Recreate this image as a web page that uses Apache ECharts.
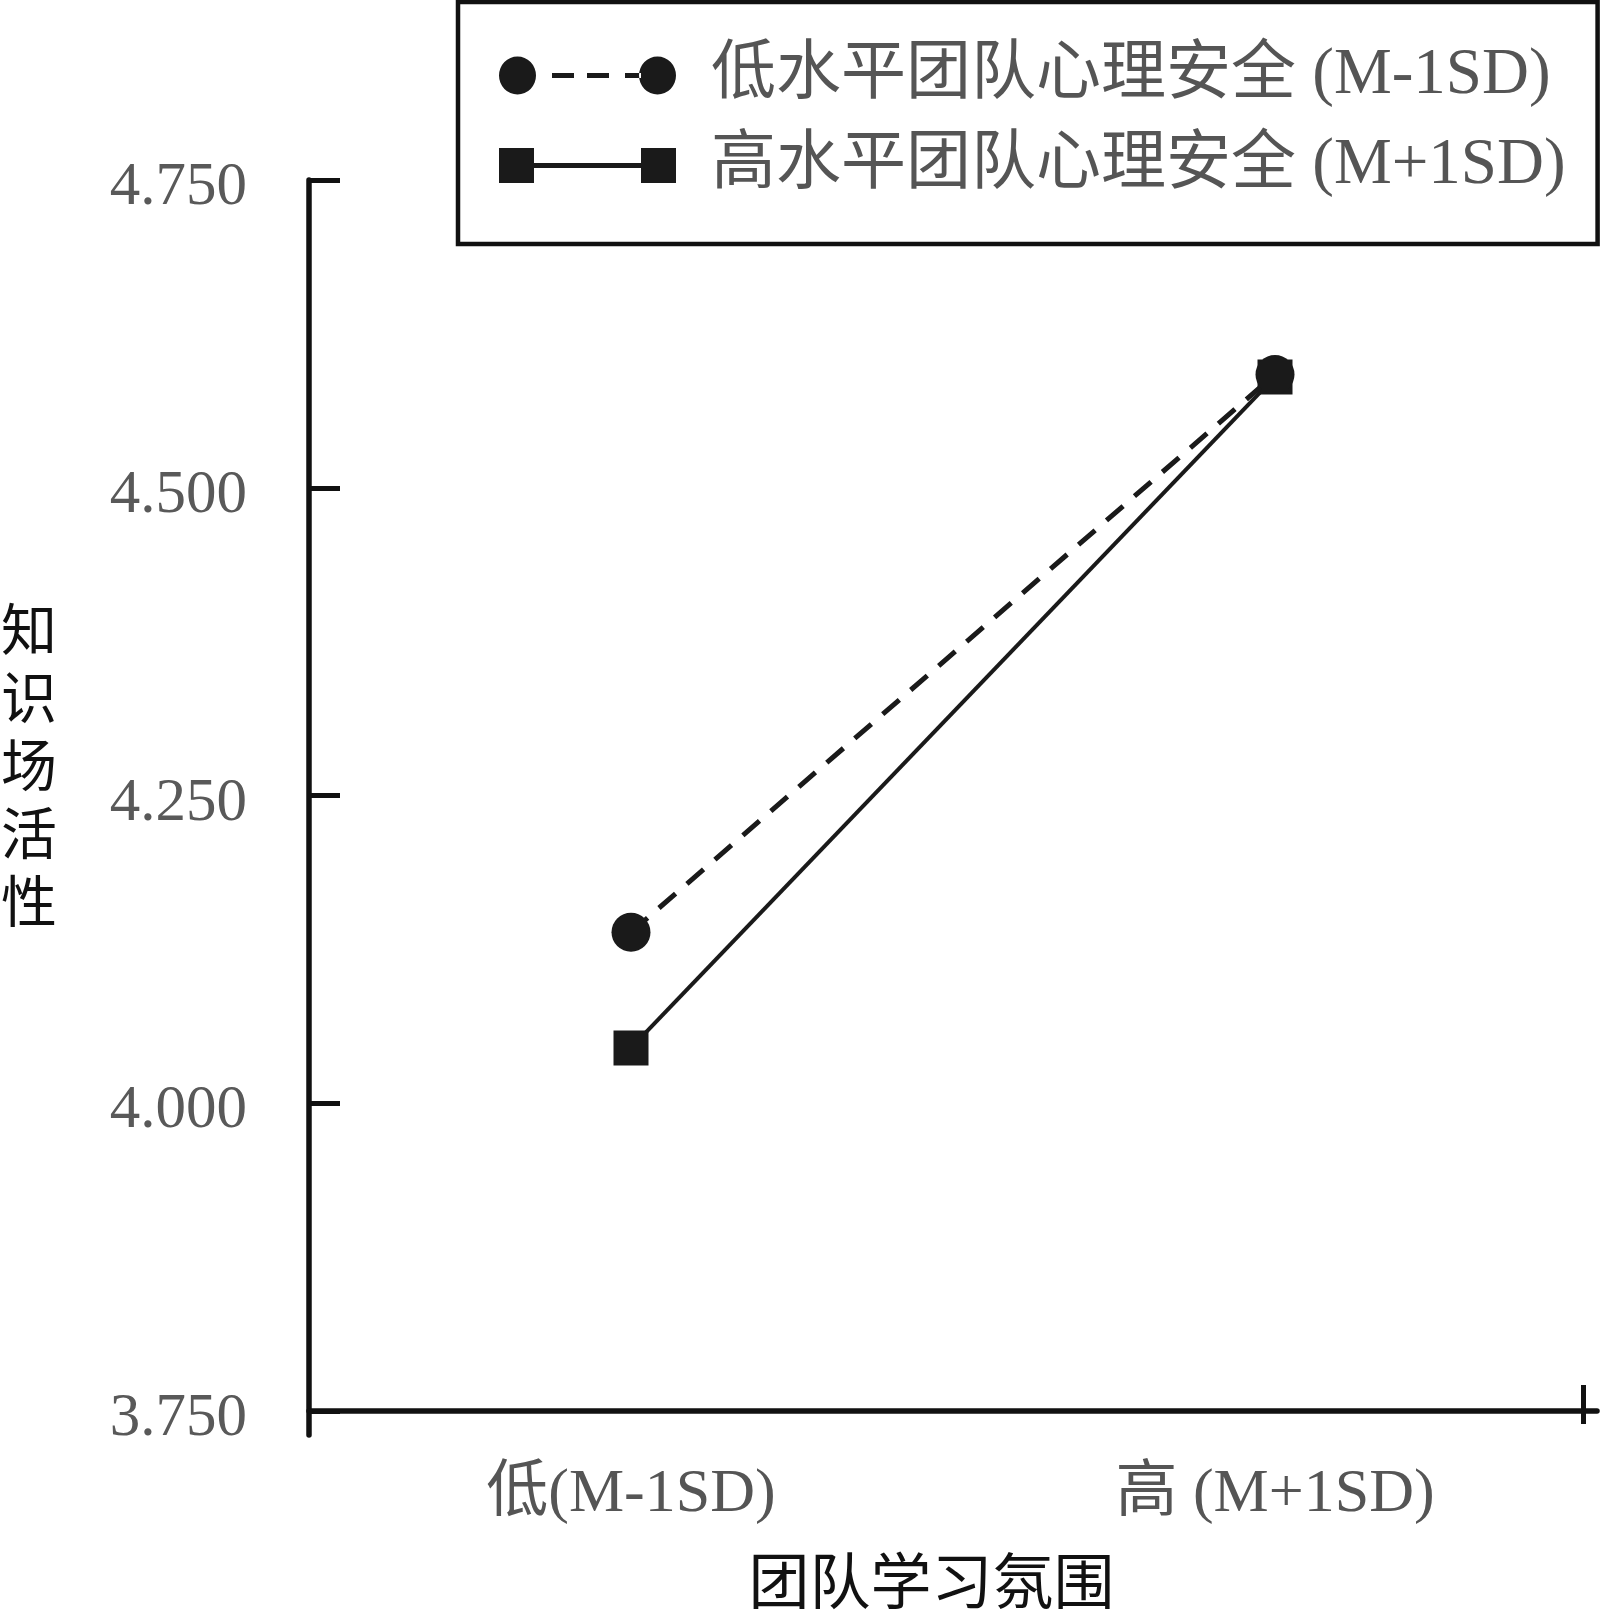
<!DOCTYPE html>
<html>
<head>
<meta charset="utf-8">
<script src="https://cdn.jsdelivr.net/npm/echarts@6/dist/echarts.min.js"></script>
<style>
html,body{margin:0;padding:0;background:#fff;}
#c{width:1601px;height:1616px;}
</style>
</head>
<body>
<div id="c"></div>
<script>
// ---- data ----
var categories = ['低(M-1SD)', '高 (M+1SD)'];
var seriesNames = ['低水平团队心理安全 (M-1SD)', '高水平团队心理安全 (M+1SD)'];
var lowSafety = [4.139, 4.592];
var highSafety = [4.045, 4.590];
var yTicks = [3.75, 4.0, 4.25, 4.5, 4.75];
var xAxisTitle = '团队学习氛围';
var yAxisTitle = '知识场活性';

var FONT = "'Liberation Serif', 'Noto Sans CJK SC', serif";
var CJK = "'Noto Sans CJK SC', sans-serif";
var INK = '#1a1a1a';

var dashedIcon = 'path://M0,19 A18.5,19 0 1,0 37,19 A18.5,19 0 1,0 0,19 Z' +
  ' M53,16.5 H75 V21.5 H53 Z M88,16.5 H110 V21.5 H88 Z M126,16.5 H142 V21.5 H126 Z' +
  ' M140,19 A18.5,19 0 1,0 177,19 A18.5,19 0 1,0 140,19 Z';
var solidIcon = 'path://M0,1.5 H35 V36.5 H0 Z M35,16.5 H142 V21.5 H35 Z M142,1.5 H177 V36.5 H142 Z';

var chart = echarts.init(document.getElementById('c'), null, {renderer: 'canvas'});
chart.setOption({
  animation: false,
  backgroundColor: '#ffffff',
  grid: {left: 309, top: 180, right: 4, bottom: 174, containLabel: false},
  legend: {
    orient: 'vertical',
    left: 458,
    top: 2,
    padding: [41, 32, 46, 41],
    itemGap: 25,
    itemWidth: 177,
    itemHeight: 38,
    borderColor: '#111',
    borderWidth: 4.5,
    backgroundColor: '#fff',
    selectedMode: false,
    textStyle: {fontSize: 65, fontFamily: FONT, color: '#555', padding: [0, 0, 0, 30]},
    data: [
      {name: seriesNames[0], icon: dashedIcon, itemStyle: {color: INK}},
      {name: seriesNames[1], icon: solidIcon, itemStyle: {color: INK}}
    ]
  },
  graphic: [{
    type: 'text',
    left: 1,
    top: 595,
    silent: true,
    style: {
      text: yAxisTitle.split('').join('\n'),
      font: "56px 'Noto Sans CJK SC', sans-serif",
      lineHeight: 68,
      fill: '#111'
    }
  }],
  xAxis: [{
    type: 'category',
    data: categories,
    position: 'bottom',
    offset: -24,
    boundaryGap: true,
    axisLine: {show: true, lineStyle: {color: '#111', width: 5.5}},
    axisTick: {show: false},
    splitLine: {show: false},
    axisLabel: {margin: 53, fontSize: 62, fontFamily: FONT, color: '#555'},
    name: xAxisTitle,
    nameLocation: 'middle',
    nameGap: 139,
    nameTextStyle: {fontSize: 61, fontFamily: CJK, color: '#111', padding: [0, 43, 0, 0]}
  }, {
    type: 'value',
    position: 'bottom',
    min: 0,
    max: 1,
    offset: -50,
    axisLine: {show: false},
    axisLabel: {show: false},
    splitLine: {show: false},
    axisTick: {show: true, customValues: [0.9891], length: 39, lineStyle: {color: '#111', width: 5}}
  }],
  yAxis: {
    type: 'value',
    position: 'left',
    min: 3.7306,
    max: 4.75,
    axisLine: {show: true, lineStyle: {color: '#111', width: 5.5}},
    axisTick: {show: true, inside: true, length: 31, customValues: yTicks, lineStyle: {color: '#111', width: 5}},
    splitLine: {show: false},
    axisLabel: {
      customValues: yTicks,
      margin: 62,
      fontSize: 61,
      fontFamily: FONT,
      color: '#595959',
      verticalAlign: 'top',
      lineHeight: 16,
      formatter: function (v) { return v.toFixed(3); }
    }
  },
  series: [{
    name: seriesNames[1],
    type: 'line',
    xAxisIndex: 0,
    data: highSafety,
    symbol: 'rect',
    symbolSize: 35,
    itemStyle: {color: INK},
    lineStyle: {color: INK, width: 4, type: 'solid'},
    z: 2
  }, {
    name: seriesNames[0],
    type: 'line',
    xAxisIndex: 0,
    data: lowSafety,
    symbol: 'circle',
    symbolSize: 39,
    itemStyle: {color: INK},
    lineStyle: {color: INK, width: 5, type: [22, 15]},
    z: 3
  }]
});
</script>
</body>
</html>
